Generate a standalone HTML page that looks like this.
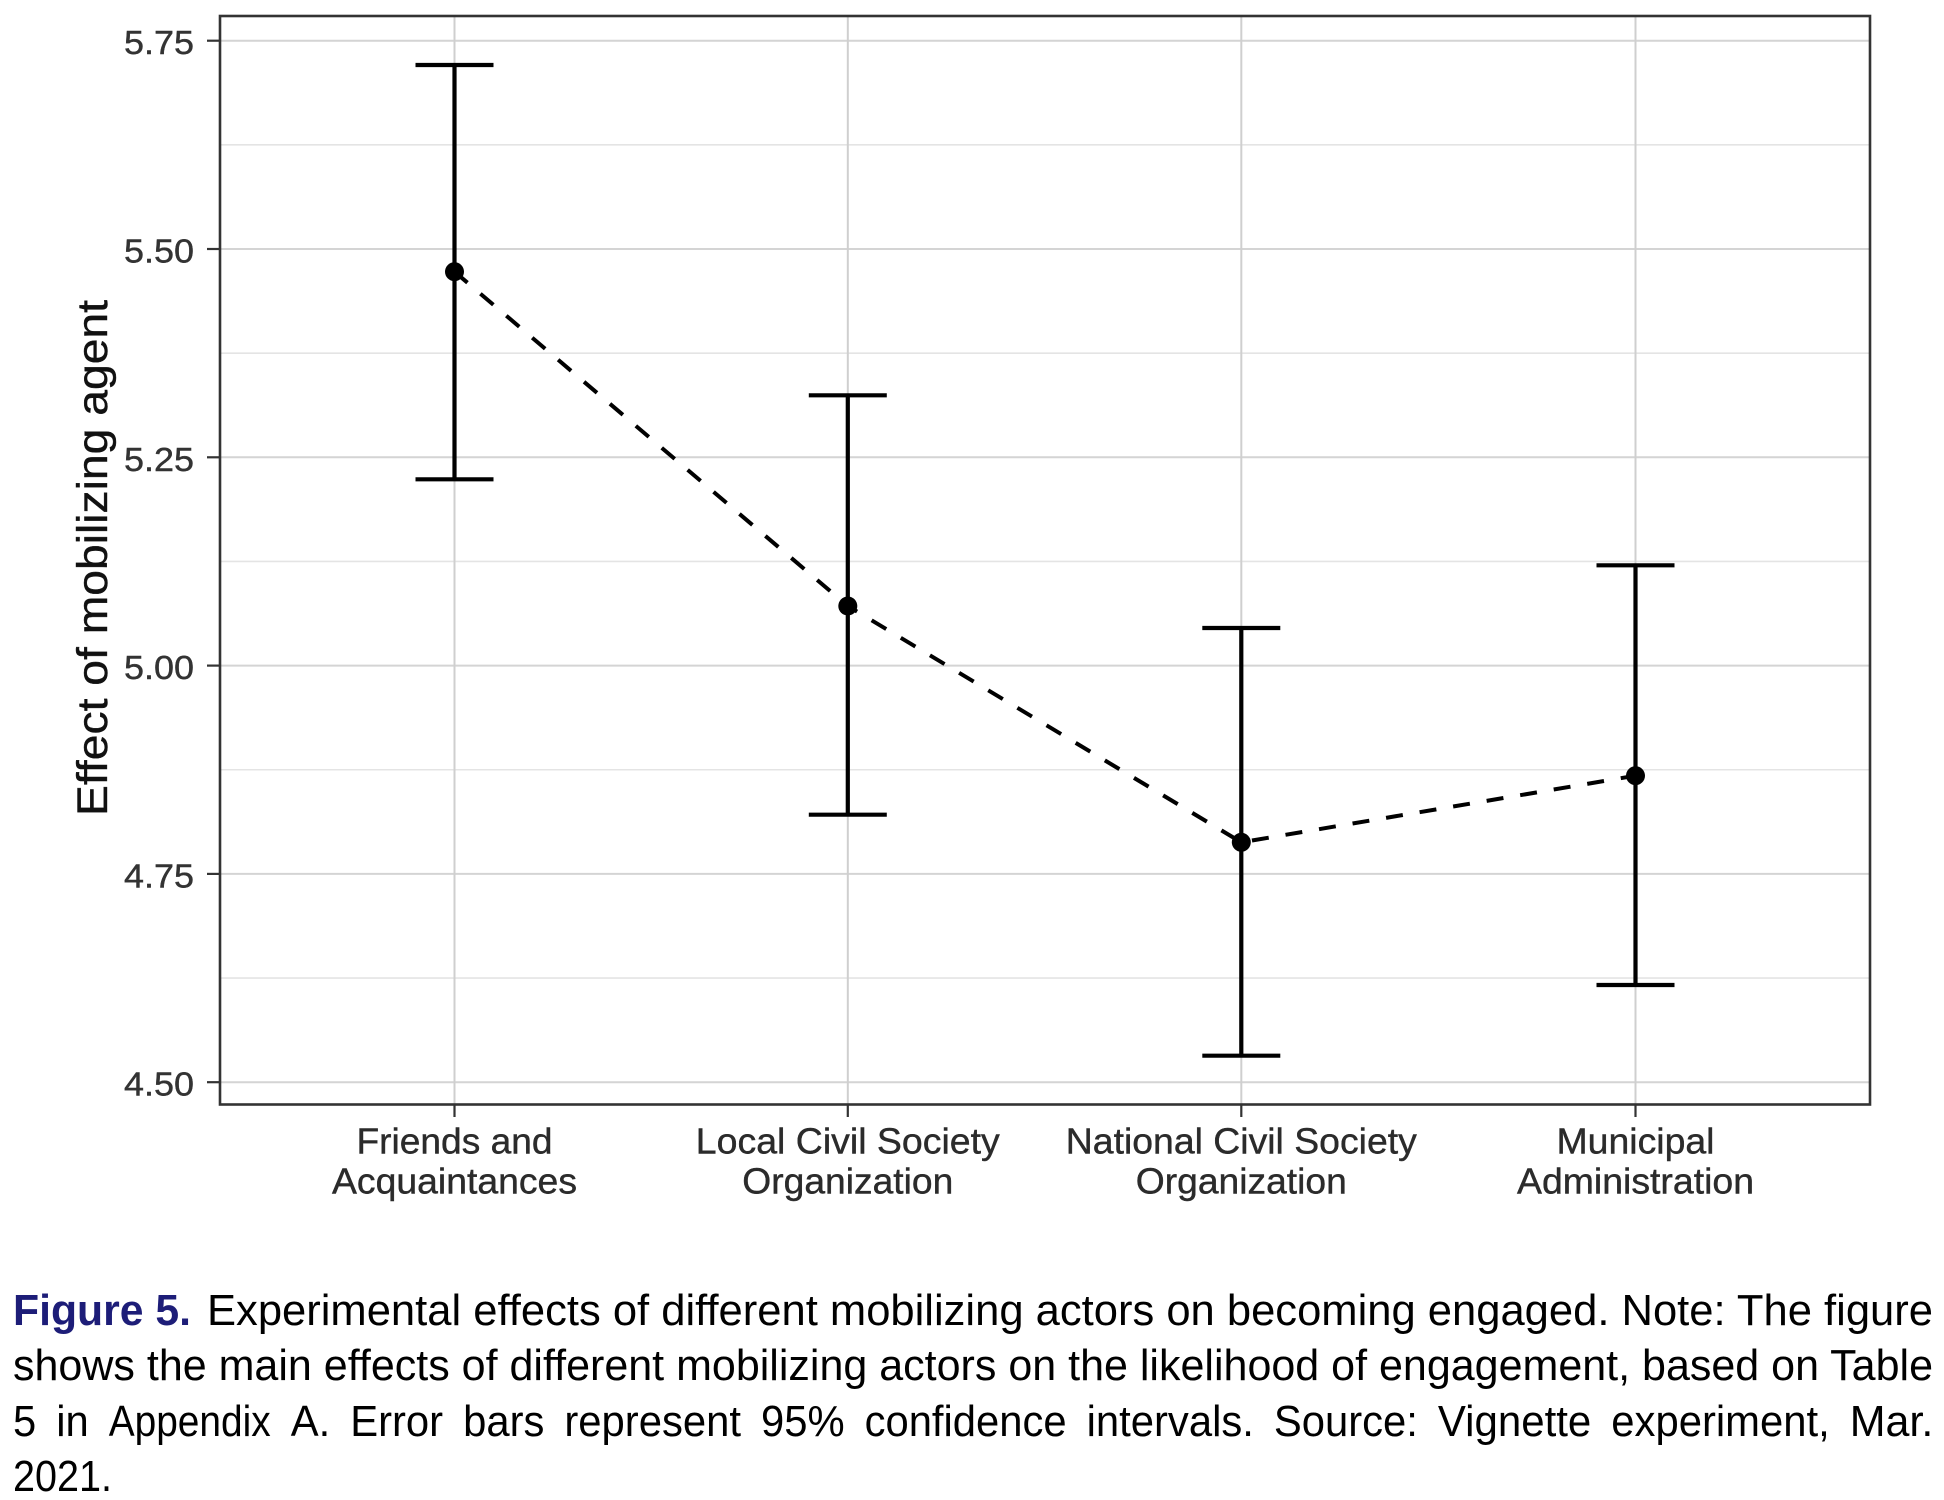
<!DOCTYPE html>
<html>
<head>
<meta charset="utf-8">
<style>
  html, body { margin: 0; padding: 0; background: #ffffff; }
  body { width: 1944px; height: 1500px; overflow: hidden; }
  svg { display: block; }
</style>
</head>
<body>
<svg width="1944" height="1500" viewBox="0 0 1944 1500" xmlns="http://www.w3.org/2000/svg">
  <rect x="0" y="0" width="1944" height="1500" fill="#ffffff"/>

  <!-- minor horizontal gridlines -->
  <g stroke="#e4e4e4" stroke-width="1.6">
    <line x1="220" y1="144.85" x2="1870" y2="144.85"/>
    <line x1="220" y1="353.15" x2="1870" y2="353.15"/>
    <line x1="220" y1="561.45" x2="1870" y2="561.45"/>
    <line x1="220" y1="769.75" x2="1870" y2="769.75"/>
    <line x1="220" y1="978.05" x2="1870" y2="978.05"/>
  </g>
  <!-- major horizontal gridlines -->
  <g stroke="#d4d4d4" stroke-width="2">
    <line x1="220" y1="40.7" x2="1870" y2="40.7"/>
    <line x1="220" y1="249" x2="1870" y2="249"/>
    <line x1="220" y1="457.3" x2="1870" y2="457.3"/>
    <line x1="220" y1="665.6" x2="1870" y2="665.6"/>
    <line x1="220" y1="873.9" x2="1870" y2="873.9"/>
    <line x1="220" y1="1082.2" x2="1870" y2="1082.2"/>
  </g>
  <!-- vertical gridlines -->
  <g stroke="#cfcfcf" stroke-width="2">
    <line x1="454.5" y1="16" x2="454.5" y2="1104.5"/>
    <line x1="847.8" y1="16" x2="847.8" y2="1104.5"/>
    <line x1="1241.3" y1="16" x2="1241.3" y2="1104.5"/>
    <line x1="1635.5" y1="16" x2="1635.5" y2="1104.5"/>
  </g>

  <!-- dashed connecting line -->
  <polyline points="454.5,271.7 847.8,606 1241.3,842.3 1635.5,775.7"
            fill="none" stroke="#000" stroke-width="4" stroke-dasharray="17 17" stroke-linejoin="miter"/>

  <!-- error bars -->
  <g stroke="#000" stroke-width="4.2" fill="none">
    <line x1="454.5" y1="65" x2="454.5" y2="479.3"/>
    <line x1="415.5" y1="65" x2="493.5" y2="65"/>
    <line x1="415.5" y1="479.3" x2="493.5" y2="479.3"/>

    <line x1="847.8" y1="395.3" x2="847.8" y2="814.7"/>
    <line x1="808.8" y1="395.3" x2="886.8" y2="395.3"/>
    <line x1="808.8" y1="814.7" x2="886.8" y2="814.7"/>

    <line x1="1241.3" y1="628" x2="1241.3" y2="1055.7"/>
    <line x1="1202.3" y1="628" x2="1280.3" y2="628"/>
    <line x1="1202.3" y1="1055.7" x2="1280.3" y2="1055.7"/>

    <line x1="1635.5" y1="565.3" x2="1635.5" y2="985"/>
    <line x1="1596.5" y1="565.3" x2="1674.5" y2="565.3"/>
    <line x1="1596.5" y1="985" x2="1674.5" y2="985"/>
  </g>

  <!-- points -->
  <g fill="#000">
    <circle cx="454.5" cy="271.7" r="9.5"/>
    <circle cx="847.8" cy="606" r="9.5"/>
    <circle cx="1241.3" cy="842.3" r="9.5"/>
    <circle cx="1635.5" cy="775.7" r="9.5"/>
  </g>

  <!-- panel border -->
  <rect x="220" y="16" width="1650" height="1088.5" fill="none" stroke="#333333" stroke-width="2.6"/>

  <!-- y ticks -->
  <g stroke="#333333" stroke-width="2.2">
    <line x1="207" y1="40.7" x2="220" y2="40.7"/>
    <line x1="207" y1="249" x2="220" y2="249"/>
    <line x1="207" y1="457.3" x2="220" y2="457.3"/>
    <line x1="207" y1="665.6" x2="220" y2="665.6"/>
    <line x1="207" y1="873.9" x2="220" y2="873.9"/>
    <line x1="207" y1="1082.2" x2="220" y2="1082.2"/>
  </g>
  <!-- x ticks -->
  <g stroke="#333333" stroke-width="2.2">
    <line x1="454.5" y1="1104.5" x2="454.5" y2="1117"/>
    <line x1="847.8" y1="1104.5" x2="847.8" y2="1117"/>
    <line x1="1241.3" y1="1104.5" x2="1241.3" y2="1117"/>
    <line x1="1635.5" y1="1104.5" x2="1635.5" y2="1117"/>
  </g>

  <!-- y tick labels -->
  <g font-family="'Liberation Sans', Arial, sans-serif" font-size="33" fill="#333333" stroke="#333333" stroke-width="0.4" text-anchor="end">
    <text x="194" y="54.2" textLength="70" lengthAdjust="spacingAndGlyphs">5.75</text>
    <text x="194" y="262.5" textLength="70" lengthAdjust="spacingAndGlyphs">5.50</text>
    <text x="194" y="470.8" textLength="70" lengthAdjust="spacingAndGlyphs">5.25</text>
    <text x="194" y="679.1" textLength="70" lengthAdjust="spacingAndGlyphs">5.00</text>
    <text x="194" y="887.4" textLength="70" lengthAdjust="spacingAndGlyphs">4.75</text>
    <text x="194" y="1095.7" textLength="70" lengthAdjust="spacingAndGlyphs">4.50</text>
  </g>

  <!-- x tick labels -->
  <g font-family="'Liberation Sans', Arial, sans-serif" font-size="36" fill="#2b2b2b" stroke="#2b2b2b" stroke-width="0.4" text-anchor="middle">
    <text x="454.5" y="1153.3" textLength="196" lengthAdjust="spacingAndGlyphs">Friends and</text>
    <text x="454.5" y="1193.3" textLength="245" lengthAdjust="spacingAndGlyphs">Acquaintances</text>
    <text x="847.8" y="1153.3" textLength="304" lengthAdjust="spacingAndGlyphs">Local Civil Society</text>
    <text x="847.8" y="1193.3" textLength="211" lengthAdjust="spacingAndGlyphs">Organization</text>
    <text x="1241.3" y="1153.3" textLength="351" lengthAdjust="spacingAndGlyphs">National Civil Society</text>
    <text x="1241.3" y="1193.3" textLength="211" lengthAdjust="spacingAndGlyphs">Organization</text>
    <text x="1635.5" y="1153.3" textLength="158" lengthAdjust="spacingAndGlyphs">Municipal</text>
    <text x="1635.5" y="1193.3" textLength="237" lengthAdjust="spacingAndGlyphs">Administration</text>
  </g>

  <!-- y axis title -->
  <text transform="translate(107,558) rotate(-90)" x="0" y="0" text-anchor="middle"
        font-family="'Liberation Sans', Arial, sans-serif" font-size="43" fill="#111111" stroke="#111111" stroke-width="0.4"
        textLength="516" lengthAdjust="spacingAndGlyphs">Effect of mobilizing agent</text>

  <!-- caption -->
  <g font-family="'Liberation Sans', Arial, sans-serif" font-size="44" fill="#000000">
    <text x="13" y="1325" textLength="178" lengthAdjust="spacingAndGlyphs" font-weight="bold" fill="#1d1d78">Figure 5.</text>
    <text x="207" y="1325" textLength="1726" lengthAdjust="spacingAndGlyphs">Experimental effects of different mobilizing actors on becoming engaged. Note: The figure</text>
    <text x="13" y="1380" textLength="1920" lengthAdjust="spacingAndGlyphs">shows the main effects of different mobilizing actors on the likelihood of engagement, based on Table</text>

    <!-- line 3: uniform glyph scale, widened word gaps -->
    <text x="13" y="1436" textLength="23.2" lengthAdjust="spacingAndGlyphs">5</text>
    <text x="56.2" y="1436" textLength="32.5" lengthAdjust="spacingAndGlyphs">in</text>
    <text x="108.7" y="1436" textLength="162" lengthAdjust="spacingAndGlyphs">Appendix</text>
    <text x="290.7" y="1436" textLength="39.5" lengthAdjust="spacingAndGlyphs">A.</text>
    <text x="350.2" y="1436" textLength="92.9" lengthAdjust="spacingAndGlyphs">Error</text>
    <text x="463.1" y="1436" textLength="81.3" lengthAdjust="spacingAndGlyphs">bars</text>
    <text x="564.4" y="1436" textLength="176.6" lengthAdjust="spacingAndGlyphs">represent</text>
    <text x="761" y="1436" textLength="83.6" lengthAdjust="spacingAndGlyphs">95%</text>
    <text x="864.6" y="1436" textLength="202" lengthAdjust="spacingAndGlyphs">confidence</text>
    <text x="1086.6" y="1436" textLength="167.3" lengthAdjust="spacingAndGlyphs">intervals.</text>
    <text x="1273.9" y="1436" textLength="144" lengthAdjust="spacingAndGlyphs">Source:</text>
    <text x="1437.9" y="1436" textLength="153.4" lengthAdjust="spacingAndGlyphs">Vignette</text>
    <text x="1611.3" y="1436" textLength="218.4" lengthAdjust="spacingAndGlyphs">experiment,</text>
    <text x="1849.7" y="1436" textLength="83.6" lengthAdjust="spacingAndGlyphs">Mar.</text>

    <text x="13" y="1491" textLength="99" lengthAdjust="spacingAndGlyphs">2021.</text>
  </g>
</svg>
</body>
</html>
